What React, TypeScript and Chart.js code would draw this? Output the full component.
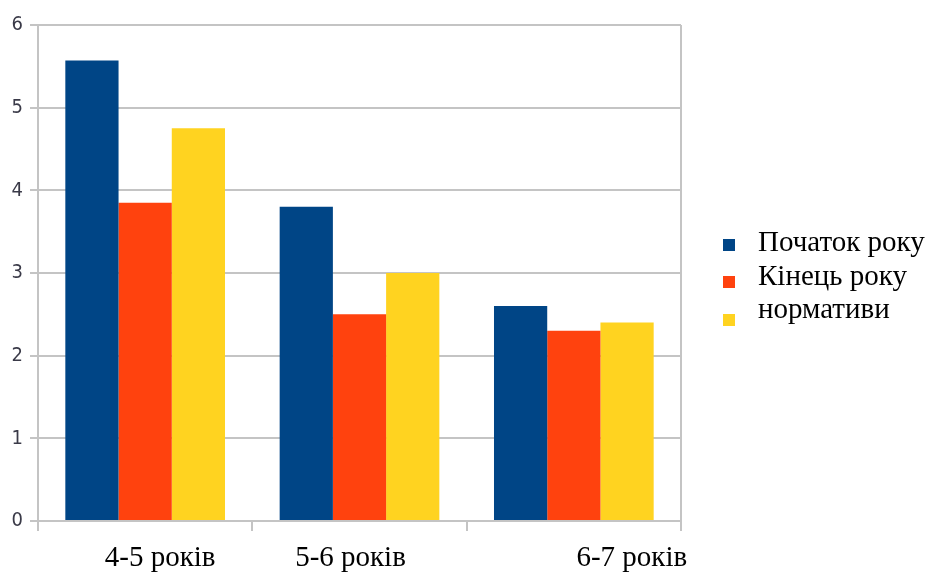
import { useEffect, useRef } from "react";
import { Chart, registerables } from "chart.js";

Chart.register(...registerables);

const categories = ["4-5 років", "5-6 років", "6-7 років"];
const seriesNames = ["Початок року", "Кінець року", "нормативи"];
const startOfYear = [5.57, 3.8, 2.6];
const endOfYear = [3.85, 2.5, 2.3];
const norms = [4.75, 3.0, 2.4];
const yMin = 0;
const yMax = 6;
const yStep = 1;

const COLORS = ["#004586", "#ff420e", "#ffd320"];
const GRID = "#c4c4c4";
const SERIF = "'Liberation Serif', 'Times New Roman', serif";
const LABEL_SHIFT = [15, -9, 58];

const framePlugin = {
  id: "frame",
  afterDraw(chart: any) {
    const { ctx, chartArea } = chart;
    ctx.save();
    ctx.strokeStyle = GRID;
    ctx.lineWidth = 2;
    ctx.beginPath();
    ctx.moveTo(chartArea.right, chartArea.top);
    ctx.lineTo(chartArea.right, chartArea.bottom + 10);
    ctx.stroke();
    ctx.restore();
  },
};

const xLabelPlugin = {
  id: "xlabels",
  afterDraw(chart: any) {
    const { ctx } = chart;
    const xs = chart.scales.x;
    ctx.save();
    ctx.fillStyle = "#000";
    ctx.font = `29px ${SERIF}`;
    ctx.textAlign = "center";
    ctx.textBaseline = "alphabetic";
    chart.data.labels.forEach((lab: string, i: number) => {
      ctx.fillText(lab, xs.getPixelForValue(i) + LABEL_SHIFT[i], 566);
    });
    ctx.restore();
  },
};

const legendPlugin = {
  id: "customLegend",
  afterDraw(chart: any) {
    const { ctx } = chart;
    ctx.save();
    ctx.font = `29px ${SERIF}`;
    ctx.textAlign = "left";
    ctx.textBaseline = "alphabetic";
    const squareY = [245, 282, 320];
    chart.data.datasets.forEach((ds: any, i: number) => {
      ctx.fillStyle = ds.backgroundColor;
      ctx.fillRect(723, squareY[i] - 6, 12, 12);
      ctx.fillStyle = "#000";
      ctx.fillText(ds.label, 758, 251 + i * 33.5);
    });
    ctx.restore();
  },
};

export default function App() {
  const ref = useRef<HTMLCanvasElement>(null);

  useEffect(() => {
    document.body.style.margin = "0";
    const canvas = ref.current;
    if (!canvas) return;
    const chart = new Chart(canvas, {
      type: "bar",
      data: {
        labels: categories,
        datasets: [
          { label: seriesNames[0], data: startOfYear, backgroundColor: COLORS[0] },
          { label: seriesNames[1], data: endOfYear, backgroundColor: COLORS[1] },
          { label: seriesNames[2], data: norms, backgroundColor: COLORS[2] },
        ],
      },
      options: {
        responsive: false,
        animation: false,
        layout: { padding: { left: 0, right: 249, top: 25, bottom: 0 } },
        datasets: { bar: { categoryPercentage: 0.745, barPercentage: 1 } },
        plugins: { legend: { display: false }, tooltip: { enabled: false } },
        scales: {
          x: {
            grid: {
              offset: true,
              drawOnChartArea: false,
              drawTicks: true,
              tickLength: 10,
              color: GRID,
              lineWidth: 2,
            },
            border: { display: true, color: GRID, width: 2 },
            ticks: { display: false },
            afterFit(scale: any) {
              scale.height = 51;
            },
          },
          y: {
            min: yMin,
            max: yMax,
            ticks: {
              stepSize: yStep,
              color: "#3a3a48",
              font: { family: "'DejaVu Sans Condensed', 'Liberation Sans Narrow', sans-serif", size: 20 },
              padding: 7,
            },
            grid: { color: GRID, lineWidth: 2, tickLength: 8 },
            border: { display: true, color: GRID, width: 2 },
            afterFit(scale: any) {
              scale.width = 38;
            },
          },
        },
      },
      plugins: [framePlugin, xLabelPlugin, legendPlugin],
    });
    return () => chart.destroy();
  }, []);

  return (
    <div style={{ width: 930, height: 572 }}>
      <canvas ref={ref} width={930} height={572} style={{ display: "block" }} />
    </div>
  );
}
